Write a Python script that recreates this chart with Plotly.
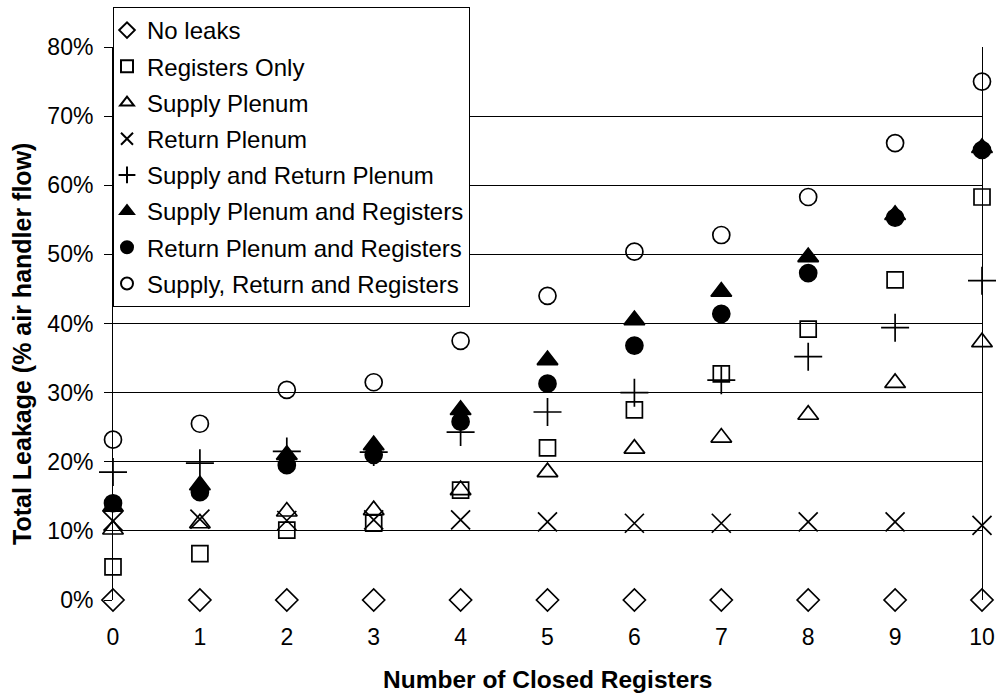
import plotly.graph_objs as go

# Datos (fraccion del flujo del manejador de aire)
closed_registers = list(range(11))

no_leaks = [0, 0, 0, 0, 0, 0, 0, 0, 0, 0, 0]
registers_only = [0.048, 0.067, 0.101, 0.111, 0.159, 0.220, 0.275, 0.327, 0.392, 0.463, 0.583]
supply_plenum = [0.102, 0.111, 0.128, 0.130, 0.159, 0.185, 0.219, 0.235, 0.268, 0.314, 0.373]
return_plenum = [0.114, 0.117, 0.115, 0.116, 0.116, 0.113, 0.111, 0.111, 0.113, 0.113, 0.108]
supply_return_plenum = [0.185, 0.198, 0.215, 0.214, 0.243, 0.272, 0.300, 0.318, 0.352, 0.394, 0.462]
supply_plenum_registers = [0.135, 0.166, 0.210, 0.224, 0.275, 0.347, 0.405, 0.446, 0.496, 0.557, 0.654]
return_plenum_registers = [0.140, 0.156, 0.195, 0.210, 0.258, 0.313, 0.368, 0.414, 0.473, 0.553, 0.651]
supply_return_registers = [0.232, 0.255, 0.304, 0.315, 0.375, 0.440, 0.504, 0.528, 0.583, 0.661, 0.750]

series = [
    ("No leaks", no_leaks, "diamond-open", 17),
    ("Registers Only", registers_only, "square-open", 16),
    ("Supply Plenum", supply_plenum, "triangle-up-open", 18),
    ("Return Plenum", return_plenum, "x-thin-open", 19),
    ("Supply and Return Plenum", supply_return_plenum, "cross-thin-open", 20),
    ("Supply Plenum and Registers", supply_plenum_registers, "triangle-up", 18),
    ("Return Plenum and Registers", return_plenum_registers, "circle", 17),
    ("Supply, Return and Registers", supply_return_registers, "circle-open", 17),
]

font_family = "Liberation Sans, Arial, sans-serif"

fig = go.Figure()

for i, (nombre, valores, simbolo, tam) in enumerate(series):
    fig.add_trace(
        go.Scatter(
            x=closed_registers,
            y=valores,
            mode='markers',
            name=nombre,
            legendgroup=str(i),
            cliponaxis=False,
            marker=dict(
                symbol=simbolo,
                size=tam,
                color='black',
                line=dict(color='black', width=1.7),
            ),
        )
    )

fig.update_layout(
    width=1000,
    height=696,
    paper_bgcolor='white',
    plot_bgcolor='white',
    margin=dict(l=113, r=18, t=47, b=96, autoexpand=False),
    font=dict(family=font_family, size=23, color='black'),
    showlegend=True,
    legend=dict(
        x=0, y=1.0723, xanchor='left', yanchor='top',
        bgcolor='white', bordercolor='black', borderwidth=1,
        font=dict(size=24),
        itemsizing='constant',
        itemwidth=30,
        indentation=-7,
        traceorder='grouped',
        tracegroupgap=2,
    ),
    xaxis=dict(
        range=[0, 10],
        tickvals=closed_registers,
        showgrid=False,
        zeroline=False,
        showline=False,
        ticks='',
        ticklabelstandoff=21,
    ),
    yaxis=dict(
        range=[0, 0.8],
        dtick=0.1,
        tickformat='.0%',
        showgrid=True,
        gridcolor='black',
        gridwidth=1,
        zeroline=False,
        showline=True,
        linecolor='black',
        linewidth=1,
        mirror=True,
        ticks='outside',
        ticklen=8,
        tickcolor='black',
        ticklabelstandoff=6,
    ),
    annotations=[
        dict(
            text='<b>Total Leakage (% air handler flow)</b>',
            xref='paper', yref='paper',
            x=-0.1047, y=0.463,
            xanchor='center', yanchor='middle',
            textangle=-90, showarrow=False,
            font=dict(size=25),
        ),
        dict(
            text='<b>Number of Closed Registers</b>',
            xref='paper', yref='paper',
            x=0.5, y=-0.143,
            xanchor='center', yanchor='middle',
            showarrow=False,
            font=dict(size=24.5),
        ),
    ],
)

# Quitar el margen por defecto del body para que el grafico quede en (0, 0)
fig.write_html(
    "out.html",
    config={'displayModeBar': False},
    post_script="document.body.style.margin='0px';",
)
